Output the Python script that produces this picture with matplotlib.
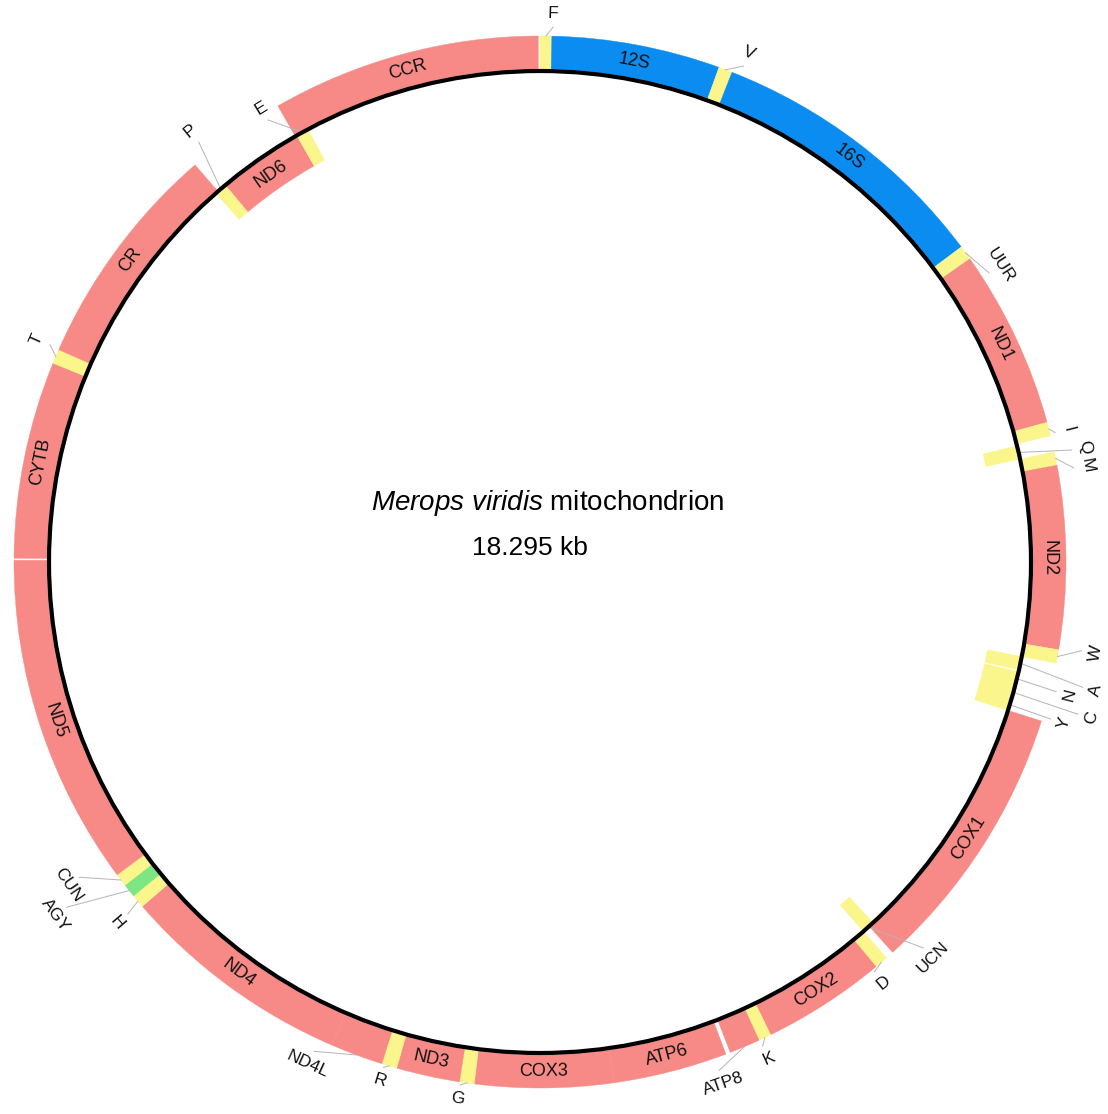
import numpy as np
import matplotlib.pyplot as plt
from matplotlib.patches import Wedge, Circle

plt.rcParams['font.family'] = ['Liberation Sans', 'DejaVu Sans']
plt.rcParams['mathtext.fontset'] = 'custom'
plt.rcParams['mathtext.rm'] = 'Liberation Sans'
plt.rcParams['mathtext.it'] = 'Liberation Sans:italic'

genome_len = 18295

# features in bp (clockwise from top), strand H = outside, L = inside
names = ['F', '12S', 'V', '16S', 'UUR', 'ND1', 'I', 'Q', 'M', 'ND2', 'W',
         'A', 'N', 'C', 'Y', 'COX1', 'UCN', 'D', 'COX2', 'K', 'ATP8', 'ATP6',
         'COX3', 'G', 'ND3', 'R', 'ND4L', 'ND4', 'H', 'AGY', 'CUN', 'ND5',
         'CYTB', 'T', 'CR', 'P', 'ND6', 'E', 'CCR']
starts = [0, 66, 1011, 1088, 2704, 2785, 3791, 3878, 3959, 4035, 5062,
          5138, 5229, 5316, 5397, 5468, 6977, 7054, 7130, 7826, 7897, 8096,
          8736, 9513, 9595, 9951, 10037, 10332, 11643, 11719, 11795, 11867,
          13742, 14850, 14931, 16196, 16272, 16786, 16776]
ends = [66, 1011, 1088, 2704, 2785, 3791, 3867, 3959, 4035, 5062, 5138,
        5219, 5316, 5397, 5468, 7008, 7054, 7130, 7826, 7897, 8070, 8736,
        9513, 9595, 9951, 10037, 10332, 11643, 11719, 11795, 11867, 13731,
        14850, 14931, 16212, 16272, 16786, 16862, 18285]
strand = ['H', 'H', 'H', 'H', 'H', 'H', 'H', 'L', 'H', 'H', 'H',
          'L', 'L', 'L', 'L', 'H', 'L', 'H', 'H', 'H', 'H', 'H',
          'H', 'H', 'H', 'H', 'H', 'H', 'H', 'H', 'H', 'H',
          'H', 'H', 'H', 'L', 'L', 'L', 'H']
kind = ['trna', 'rrna', 'trna', 'rrna', 'trna', 'prot', 'trna', 'trna', 'trna', 'prot', 'trna',
        'trna', 'trna', 'trna', 'trna', 'prot', 'trna', 'trna', 'prot', 'trna', 'prot', 'prot',
        'prot', 'trna', 'prot', 'trna', 'prot', 'prot', 'trna', 'trna2', 'trna', 'prot',
        'prot', 'trna', 'prot', 'trna', 'prot', 'trna', 'prot']

colors = {'prot': '#f78a86', 'rrna': '#0a8cf0', 'trna': '#fbf68c', 'trna2': '#7ce682'}

# where the outside labels sit: (angle in degrees, radius in px)
label_pos = {'F': (1.4, 549), 'V': (22.3, 550), 'UUR': (57.2, 548),
             'I': (75.9, 545), 'Q': (78.1, 557), 'M': (80.0, 556),
             'W': (99.3, 563), 'A': (103, 571), 'N': (104.1, 546),
             'C': (105.8, 573), 'Y': (107.1, 548), 'UCN': (135.2, 558),
             'D': (140.8, 543), 'K': (155.3, 547), 'ATP8': (160.6, 553),
             'G': (188.7, 543), 'R': (197.2, 543), 'ND4L': (204.8, 553),
             'H': (229.5, 556), 'AGY': (233.9, 600), 'CUN': (235.6, 572),
             'T': (293.9, 550), 'P': (320.9, 555), 'E': (328.4, 533)}

W, Hh = 1108, 1114
cx, cy = 540, Hh - 562
r_circ = 491
band = 33

fig = plt.figure(figsize=(W / 100, Hh / 100), dpi=100)
ax = fig.add_axes([0, 0, 1, 1])
ax.set_xlim(0, W)
ax.set_ylim(0, Hh)
ax.axis('off')


def pos(theta, r):
    t = np.radians(theta)
    return cx + r * np.sin(t), cy + r * np.cos(t)


def rot(theta):
    theta = theta % 360
    if 90 < theta < 270:
        return 180 - theta
    return -theta


for nm, s, e, st, k in zip(names, starts, ends, strand, kind):
    a0 = s / genome_len * 360
    a1 = e / genome_len * 360
    if st == 'H':
        r_out = r_circ + 2 + band
        r_in = r_circ + 2
    else:
        r_out = r_circ - 2
        r_in = r_circ - 2 - band
    ax.add_patch(Wedge((cx, cy), r_out, 90 - a1, 90 - a0, width=band,
                       facecolor=colors[k], edgecolor=colors[k], lw=0.3, zorder=2))
    mid = (a0 + a1) / 2
    if k in ('prot', 'rrna') and (a1 - a0) > 6.5:
        x, y = pos(mid, (r_out + r_in) / 2)
        ax.text(x, y, nm, fontsize=13, rotation=rot(mid), ha='center',
                va='center', rotation_mode='anchor', color='#111111', zorder=4)
    else:
        la, lr = label_pos.get(nm, (mid, 545))
        r0 = r_out if st == 'H' else r_circ
        x0, y0 = pos(mid, r0)
        x1, y1 = pos(la, lr - 14)
        ax.plot([x0, x1], [y0, y1], color='#b4b4b4', lw=0.7, zorder=3)
        x, y = pos(la, lr)
        ax.text(x, y, nm, fontsize=12.5, rotation=rot(la), ha='center',
                va='center', rotation_mode='anchor', color='#111111', zorder=4)

ax.add_patch(Circle((cx, cy), r_circ, fill=False, edgecolor='black', lw=3, zorder=3))

ax.text(548, Hh - 503, r'$\it{Merops\ viridis}$ mitochondrion', fontsize=20,
        ha='center', va='center')
ax.text(530, Hh - 548, '18.295 kb', fontsize=19, ha='center', va='center')

fig.savefig('out.png', dpi=100)
